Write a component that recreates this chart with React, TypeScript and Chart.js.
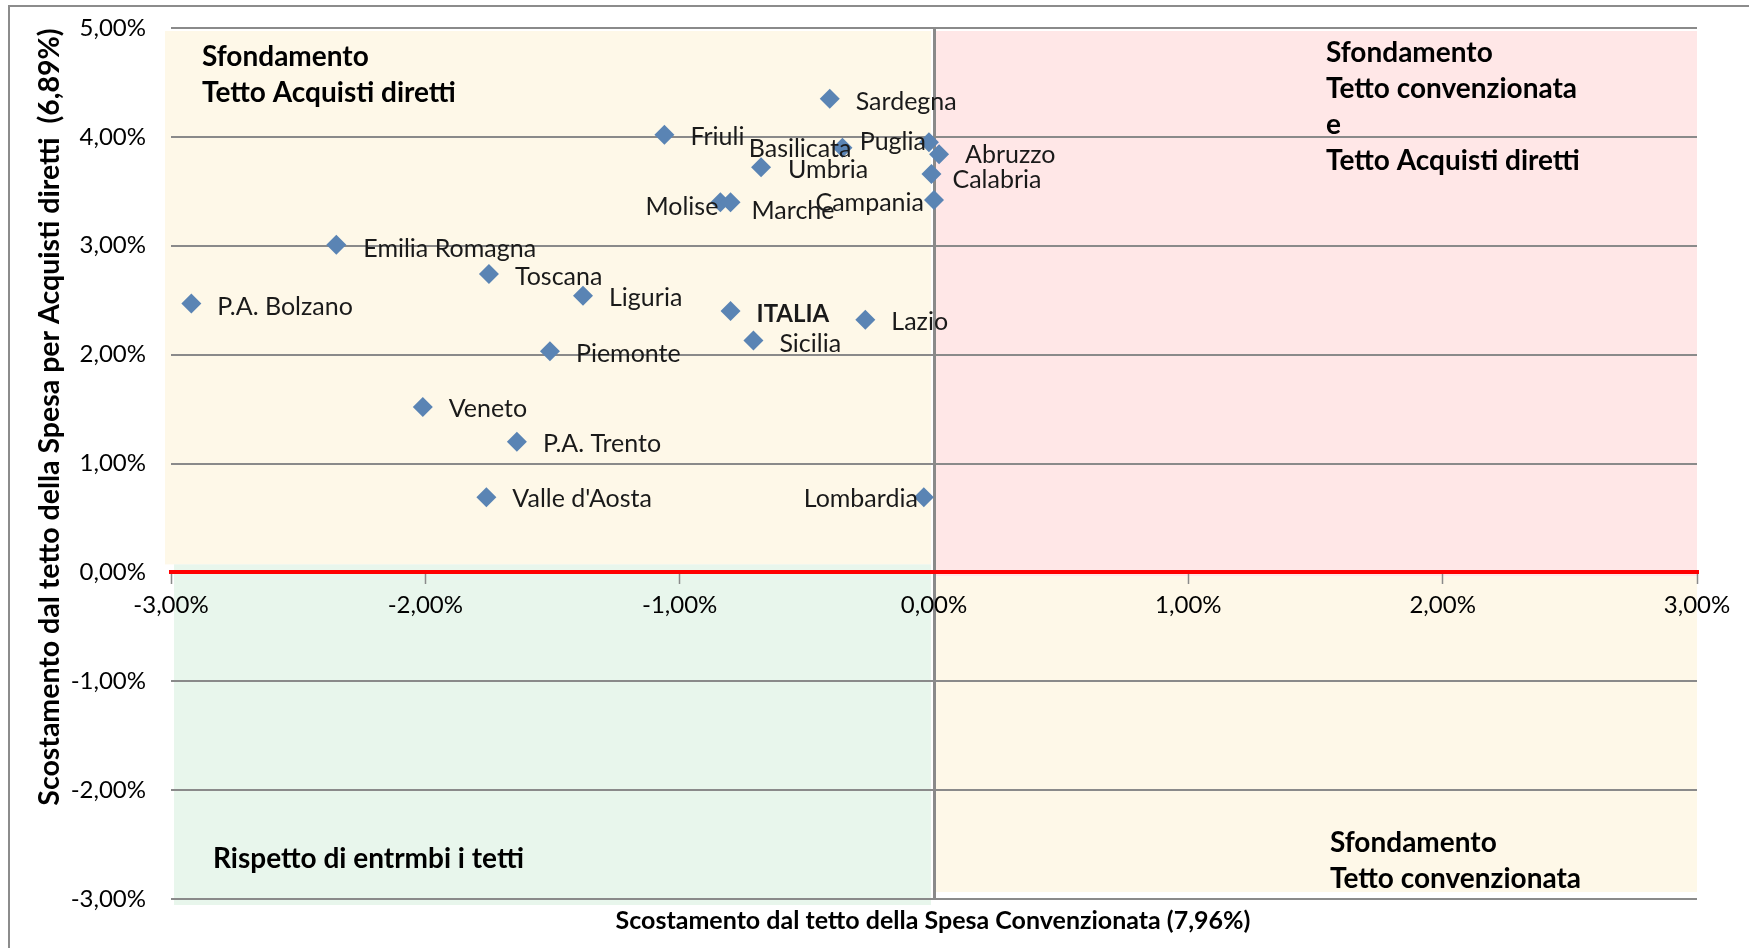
import React, { useEffect, useRef } from "react";
import { Chart, registerables } from "chart.js";

Chart.register(...registerables);

// ---- Data ----
const regions: string[] = [
  "Sardegna", "Friuli", "Basilicata", "Puglia", "Abruzzo", "Calabria", "Campania",
  "Umbria", "Molise", "Marche", "Emilia Romagna", "Toscana", "Liguria", "P.A. Bolzano",
  "ITALIA", "Lazio", "Sicilia", "Piemonte", "Veneto", "P.A. Trento", "Valle d'Aosta", "Lombardia",
];
// Scostamento dal tetto della Spesa Convenzionata (x, %)
const convenzionata: number[] = [
  -0.41, -1.06, -0.36, -0.02, 0.02, -0.01, 0.0,
  -0.68, -0.84, -0.80, -2.35, -1.75, -1.38, -2.92,
  -0.80, -0.27, -0.71, -1.51, -2.01, -1.64, -1.76, -0.04,
];
// Scostamento dal tetto della Spesa per Acquisti diretti (y, %)
const acquistiDiretti: number[] = [
  4.35, 4.02, 3.90, 3.95, 3.84, 3.66, 3.42,
  3.72, 3.40, 3.40, 3.01, 2.74, 2.54, 2.47,
  2.40, 2.32, 2.13, 2.03, 1.52, 1.20, 0.69, 0.69,
];
const xMin = -3, xMax = 3;
const yMin = -3, yMax = 5;

const xTitle = "Scostamento dal tetto della Spesa Convenzionata (7,96%)";
const yTitle = "Scostamento dal tetto della Spesa per Acquisti diretti  (6,89%)";
const quadTopLeft = ["Sfondamento", "Tetto Acquisti diretti"];
const quadTopRight = ["Sfondamento", "Tetto convenzionata", "e", "Tetto Acquisti diretti"];
const quadBottomLeft = ["Rispetto di entrmbi i tetti"];
const quadBottomRight = ["Sfondamento", "Tetto convenzionata"];

// ---- Label placement (style, not data): [side, dx, dy] ----
const labelPlacement: [string, number, number][] = [
  ["r", 26, 1], ["r", 26, 0], ["l", 9, -1], ["l", -3, -2], ["r", 26, -1], ["r", 21, 4], ["l", -10, 1],
  ["r", 27, 1], ["l", -2, 3], ["r", 21, 7], ["r", 27, 2], ["r", 26, 1], ["r", 26, 0], ["r", 26, 1],
  ["r", 26, 1], ["r", 26, 0], ["r", 26, 1], ["r", 26, 1], ["r", 26, 0], ["r", 26, 0], ["r", 26, 0], ["l", -6, 0],
];

const FONT = "Lato, 'Open Sans', sans-serif";
const fmt = (v: number | string) => Number(v).toFixed(2).replace(".", ",") + "%";

const GRID = "#8a8a8a";

const decorPlugin = {
  id: "decor",
  beforeDraw(chart: any) {
    const { ctx, chartArea: a, scales } = chart;
    const x0 = scales.x.getPixelForValue(0);
    const y0 = scales.y.getPixelForValue(0);
    ctx.save();
    // outer frame
    ctx.strokeStyle = "#8c8c8c";
    ctx.lineWidth = 2;
    ctx.beginPath();
    ctx.moveTo(9, 948);
    ctx.lineTo(9, 6);
    ctx.lineTo(1749, 6);
    ctx.stroke();
    // quadrants
    ctx.fillStyle = "#fef8e8";
    ctx.fillRect(a.left - 6, a.top + 3, x0 - 3 - (a.left - 6), y0 - 8 - (a.top + 3));
    ctx.fillStyle = "#ffe7e7";
    ctx.fillRect(x0 + 1, a.top + 3, a.right - x0 - 1, y0 + 4 - (a.top + 3));
    ctx.fillStyle = "#e8f6ec";
    ctx.fillRect(a.left + 3, y0 - 8, x0 - 3 - (a.left + 3), a.bottom + 6 - (y0 - 8));
    ctx.fillStyle = "#fef8e8";
    ctx.fillRect(x0 + 1, y0 + 4, a.right - x0 - 1, a.bottom - 7 - (y0 + 4));
    ctx.restore();
  },
  afterDatasetsDraw(chart: any) {
    const { ctx } = chart;
    const meta = chart.getDatasetMeta(0);
    ctx.save();
    ctx.textBaseline = "middle";
    ctx.fillStyle = "#1a1a1a";
    meta.data.forEach((pt: any, i: number) => {
      const [side, dx, dy] = labelPlacement[i];
      const bold = regions[i] === "ITALIA";
      ctx.font = bold ? `bold 24px ${FONT}` : `25px ${FONT}`;
      ctx.textAlign = side === "r" ? "left" : "right";
      ctx.fillText(regions[i], pt.x + dx, pt.y + dy + 2);
    });
    ctx.restore();
  },
  afterDraw(chart: any) {
    const { ctx, chartArea: a } = chart;
    ctx.save();
    ctx.fillStyle = "#000";
    ctx.textBaseline = "middle";
    ctx.textAlign = "left";
    ctx.font = `bold 28px ${FONT}`;
    const lh = 36;
    quadTopLeft.forEach((t, i) => ctx.fillText(t, a.left + 31, a.top + 29 + i * lh));
    quadTopRight.forEach((t, i) => ctx.fillText(t, a.left + 1155, a.top + 25 + i * lh));
    quadBottomLeft.forEach((t, i) => ctx.fillText(t, a.left + 42, a.bottom - 40 + i * lh));
    quadBottomRight.forEach((t, i) => ctx.fillText(t, a.left + 1159, a.bottom - 56 + i * lh));
    // axis titles
    ctx.textAlign = "center";
    ctx.font = `bold 25px ${FONT}`;
    ctx.fillText(xTitle, 933, 921);
    ctx.font = `bold 28.5px ${FONT}`;
    ctx.translate(50, 417);
    ctx.rotate(-Math.PI / 2);
    ctx.fillText(yTitle, 0, 0);
    ctx.restore();
  },
};

export default function App() {
  const ref = useRef<HTMLCanvasElement | null>(null);
  useEffect(() => {
    if (!ref.current) return;
    const points = convenzionata.map((x, i) => ({ x, y: acquistiDiretti[i] }));
    const chart = new Chart(ref.current, {
      type: "scatter",
      data: {
        datasets: [
          {
            data: points,
            pointStyle: "rectRot",
            pointRadius: 10,
            pointHoverRadius: 10,
            backgroundColor: "#5a84b4",
            borderColor: "#5a84b4",
            borderWidth: 0,
          },
        ],
      },
      options: {
        responsive: false,
        animation: false,
        events: [],
        layout: { padding: { left: 0, top: 28, right: 52, bottom: 49 } },
        plugins: { legend: { display: false }, tooltip: { enabled: false } },
        scales: {
          x: {
            type: "linear",
            min: xMin,
            max: xMax,
            position: { y: 0 } as any,
            ticks: {
              stepSize: 1,
              callback: (v: any) => fmt(v),
              font: { family: FONT, size: 24 },
              color: "#000",
              padding: 8,
              maxRotation: 0,
              autoSkip: false,
            },
            grid: {
              drawOnChartArea: true,
              color: (c: any) => (c.tick && c.tick.value === 0 ? GRID : "rgba(0,0,0,0)"),
              lineWidth: 3,
              tickColor: GRID,
              tickLength: 10,
              tickWidth: 1.5,
            } as any,
            border: { color: "#ff0000", width: 4 },
          },
          y: {
            type: "linear",
            min: yMin,
            max: yMax,
            ticks: {
              stepSize: 1,
              callback: (v: any) => fmt(v),
              font: { family: FONT, size: 24 },
              color: "#000",
              padding: 0,
            },
            grid: {
              color: (c: any) => (c.tick && c.tick.value === 0 ? "rgba(0,0,0,0)" : GRID),
              lineWidth: 2,
              drawTicks: true,
              tickLength: 25,
              tickColor: "rgba(0,0,0,0)",
            } as any,
            border: { display: false },
            afterFit: (s: any) => {
              s.width = 171;
            },
          },
        },
      },
      plugins: [decorPlugin],
    });
    return () => chart.destroy();
  }, []);
  return (
    <div style={{ position: "fixed", left: 0, top: 0, width: 1749, height: 948, background: "#fff" }}>
      <canvas ref={ref} width={1749} height={948} style={{ width: 1749, height: 948, display: "block" }} />
    </div>
  );
}
